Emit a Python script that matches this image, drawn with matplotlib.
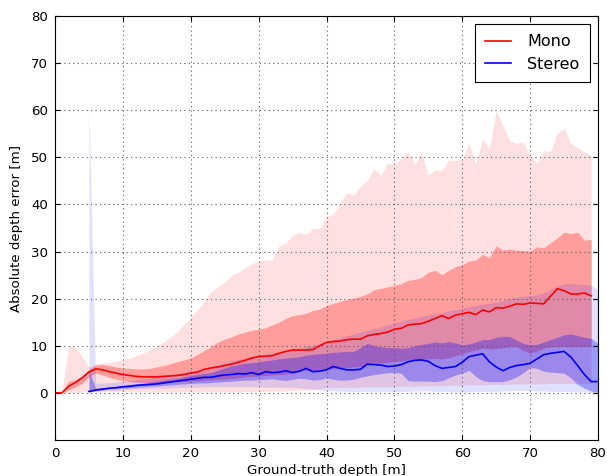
import matplotlib
matplotlib.use("Agg")
import matplotlib.pyplot as plt
import numpy as np

# ---------------- data ----------------
mono_x = list(range(0, 80))
mono_median = [0, 0, 1.4, 2.2, 3.2, 4.4, 5.1, 4.9, 4.5, 4.2,
               3.9, 3.7, 3.5, 3.4, 3.4, 3.4, 3.5, 3.6, 3.7, 3.9,
               4.2, 4.4, 5.0, 5.3, 5.5, 5.8, 6.1, 6.5, 6.9, 7.4,
               7.7, 7.8, 7.9, 8.4, 8.8, 9.1, 9.1, 9.1, 9.2, 10.0,
               10.7, 10.9, 11.0, 11.3, 11.4, 11.4, 12.1, 12.4, 12.6, 12.9,
               13.5, 13.7, 14.4, 14.6, 14.7, 15.2, 15.8, 16.4, 15.8, 16.5,
               16.8, 17.1, 16.6, 17.6, 17.2, 18.1, 18.0, 18.4, 18.9, 18.8,
               19.1, 19.0, 18.9, 20.5, 22.1, 21.7, 21.0, 21.0, 21.2, 20.6]
mono_q75 = [0, 0, 2.5, 2.8, 3.6, 5.0, 5.9, 6.0, 5.8, 5.5,
            5.3, 5.2, 5.1, 5.1, 5.2, 5.5, 5.8, 6.2, 6.6, 7.0,
            7.4, 8.2, 9.0, 9.8, 10.8, 11.4, 11.9, 12.5, 12.9, 13.3,
            13.5, 13.8, 14.4, 15.0, 15.8, 16.4, 16.6, 16.9, 17.5, 17.8,
            18.5, 19.0, 19.4, 19.8, 20.1, 20.5, 21.0, 21.9, 22.2, 22.5,
            22.8, 23.2, 23.9, 24.1, 24.5, 25.6, 26.0, 25.1, 26.0, 26.8,
            27.2, 28.0, 28.2, 29.4, 28.7, 31.2, 30.3, 30.5, 30.3, 30.2,
            30.1, 31.0, 30.8, 31.9, 32.9, 34.1, 33.8, 34.1, 32.4, 32.6]
mono_q25 = [0, 0, 0.6, 1.2, 2.0, 3.4, 4.2, 3.8, 3.3, 2.9,
            2.6, 2.4, 2.3, 2.2, 2.2, 2.2, 2.2, 2.3, 2.3, 2.4,
            2.5, 2.6, 2.7, 2.8, 2.9, 3.0, 3.1, 3.2, 3.4, 3.5,
            3.6, 3.7, 3.8, 3.9, 4.0, 4.2, 4.6, 4.8, 4.6, 4.7,
            4.9, 5.2, 5.3, 5.4, 5.5, 5.6, 5.9, 6.2, 6.3, 6.5,
            6.7, 6.8, 7.0, 7.1, 7.3, 7.2, 7.3, 7.2, 7.4, 7.9,
            8.3, 8.8, 9.1, 9.5, 9.3, 9.4, 9.6, 9.8, 9.8, 9.0,
            8.4, 8.9, 9.5, 9.8, 9.8, 9.9, 9.8, 9.8, 9.8, 9.8]
mono_p95 = [0, 0, 10.0, 9.8, 7.6, 5.5, 6.1, 6.3, 6.5, 6.7,
            7.0, 7.4, 7.9, 8.5, 9.2, 9.9, 10.8, 11.8, 13.0, 14.5,
            16.0, 17.7, 19.5, 21.5, 22.5, 23.5, 25.0, 25.6, 26.5, 27.4,
            28.0, 28.2, 28.3, 31.2, 31.8, 33.5, 34.0, 33.7, 34.9, 35.0,
            37.3, 38.0, 40.4, 42.5, 42.0, 44.0, 45.0, 47.7, 46.2, 48.8,
            48.4, 49.8, 51.2, 48.4, 51.1, 46.2, 47.4, 47.2, 49.5, 49.3,
            49.6, 53.0, 48.6, 54.0, 51.8, 59.9, 56.7, 53.5, 53.0, 53.3,
            50.3, 48.9, 51.4, 51.2, 55.2, 56.2, 53.0, 52.1, 51.2, 50.3]
mono_p5 = [0, 0, 0, 0.1, 0.2, 0.3, 0.3, 0.3, 0.3, 0.3,
           0.3, 0.3, 0.3, 0.3, 0.2, 0.2, 0.2, 0.2, 0.2, 0.2,
           0.2, 0.2, 0.2, 0.2, 0.2, 0.2, 0.2, 0.2, 0.3, 0.3,
           0.3, 0.3, 0.4, 0.4, 0.4, 0.5, 0.5, 0.6, 0.7, 0.9,
           1.1, 1.1, 1.2, 1.2, 1.2, 1.2, 1.3, 1.3, 1.3, 1.3,
           1.3, 1.4, 1.4, 1.4, 1.5, 1.5, 1.5, 1.5, 1.6, 1.6,
           1.6, 1.7, 1.7, 1.7, 1.8, 1.8, 1.8, 1.8, 1.9, 1.9,
           1.9, 1.9, 2.0, 2.0, 2.0, 2.0, 2.0, 2.0, 2.0, 2.0]

stereo_x = list(range(5, 81))
stereo_median = [0.3, 0.6, 0.8, 1.0, 1.1, 1.3, 1.4, 1.6, 1.7, 1.8,
                 1.9, 2.1, 2.3, 2.5, 2.7, 2.9, 3.1, 3.3, 3.3, 3.6,
                 3.8, 3.9, 4.1, 4.0, 4.3, 3.9, 4.5, 4.3, 4.4, 4.7,
                 4.3, 4.6, 5.2, 4.5, 4.6, 4.9, 5.6, 5.2, 4.9, 4.9,
                 5.0, 6.1, 6.0, 5.9, 5.6, 5.7, 6.0, 6.6, 6.9, 7.0,
                 6.7, 5.8, 5.2, 5.4, 5.6, 6.5, 7.7, 8.0, 8.3, 6.6,
                 5.5, 4.7, 5.4, 5.8, 6.0, 6.3, 7.2, 8.1, 8.4, 8.6,
                 8.8, 7.6, 5.8, 3.9, 2.4, 2.4]
stereo_q75 = [4.6, 1.0, 1.1, 1.2, 1.4, 1.6, 1.8, 1.9, 2.1, 2.3,
              2.5, 2.7, 2.9, 3.1, 3.4, 3.7, 3.9, 4.1, 4.3, 4.8,
              5.3, 5.7, 6.0, 6.3, 6.4, 6.6, 6.8, 7.0, 7.2, 7.4,
              7.5, 7.7, 8.0, 8.2, 8.3, 8.4, 8.6, 8.7, 8.8, 8.8,
              9.6, 10.5, 10.0, 9.8, 9.6, 9.6, 9.5, 9.6, 10.0, 10.3,
              10.5, 10.8, 10.6, 10.9, 10.6, 10.2, 10.4, 10.8, 11.3, 11.3,
              11.8, 12.0, 12.0, 11.2, 10.5, 10.2, 10.3, 10.8, 11.3, 11.8,
              12.3, 12.5, 12.2, 11.8, 11.6, 10.5]
stereo_q25 = [0.2, 0.5, 0.6, 0.8, 0.9, 1.0, 1.1, 1.2, 1.3, 1.4,
              1.5, 1.6, 1.7, 1.8, 1.9, 2.0, 2.1, 2.1, 2.2, 2.3,
              2.4, 2.5, 2.6, 2.7, 2.7, 2.8, 2.9, 3.0, 2.8, 2.6,
              2.9, 3.1, 3.0, 2.7, 2.8, 3.2, 2.9, 2.7, 2.7, 2.9,
              3.3, 3.6, 3.9, 4.1, 4.3, 4.3, 4.2, 2.6, 2.5, 2.5,
              2.5, 2.4, 2.6, 3.2, 3.8, 4.2, 4.8, 3.5, 2.6, 2.4,
              2.4, 2.4, 2.8, 3.4, 4.3, 5.4, 5.2, 4.6, 4.4, 4.3,
              4.2, 3.2, 1.8, 1.0, 0.4, 0.1]
stereo_p95 = [60.5, 2.0, 2.1, 2.2, 2.3, 2.4, 2.6, 2.8, 3.0, 3.2,
              3.4, 3.6, 3.8, 4.0, 4.3, 4.6, 4.9, 5.2, 5.6, 6.0,
              6.4, 6.8, 7.1, 7.4, 7.7, 8.0, 8.2, 8.4, 8.6, 8.9,
              9.2, 9.5, 9.8, 10.1, 10.5, 10.9, 11.3, 11.7, 12.1, 12.5,
              12.9, 13.3, 13.6, 14.0, 14.4, 14.8, 15.2, 15.6, 15.9, 16.2,
              16.5, 16.8, 17.0, 17.4, 17.7, 18.0, 18.3, 18.6, 18.8, 19.0,
              19.3, 19.6, 20.0, 20.3, 20.5, 20.6, 20.8, 21.2, 22.0, 22.7,
              23.1, 23.2, 23.1, 23.0, 22.8, 22.0]
stereo_p5 = [0.0, 0.4, 0.5, 0.6, 0.6, 0.7, 0.8, 0.8, 0.9, 0.9,
             1.0, 1.0, 1.1, 1.1, 1.2, 1.2, 1.2, 1.3, 1.3, 1.3,
             1.3, 1.3, 1.3, 1.3, 1.3, 1.3, 1.2, 1.2, 1.2, 1.1,
             1.1, 1.0, 0.9, 0.8, 0.6, 0.5, 0.4, 0.4, 0.3, 0.3,
             0.3, 0.3, 0.3, 0.3, 0.3, 0.3, 0.3, 0.3, 0.4, 0.4,
             0.4, 0.3, 0.3, 0.3, 0.2, 0.2, 0.2, 0.3, 0.3, 0.3,
             0.3, 0.4, 0.4, 0.5, 0.5, 0.5, 0.4, 0.4, 0.3, 0.3,
             0.3, 0.3, 0.2, 0.2, 0.1, 0.0]

series_labels = ["Mono", "Stereo"]
x_ticks = [0, 10, 20, 30, 40, 50, 60, 70, 80]
y_ticks = [0, 10, 20, 30, 40, 50, 60, 70, 80]

# ---------------- figure ----------------
plt.rcParams['font.family'] = ['DejaVu Sans']
fig = plt.figure(figsize=(6.07, 4.76), dpi=100)
ax = fig.add_axes([55 / 607, 1 - 440 / 476, 543 / 607, 424 / 476])

ax.fill_between(mono_x, mono_p5, mono_p95, color='red', alpha=0.12, linewidth=0)
ax.fill_between(mono_x, mono_q25, mono_q75, color='red', alpha=0.3, linewidth=0)
ax.fill_between(stereo_x, stereo_p5, stereo_p95, color='blue', alpha=0.12, linewidth=0)
ax.fill_between(stereo_x, stereo_q25, stereo_q75, color='blue', alpha=0.3, linewidth=0)
ax.plot(mono_x, mono_median, color='red', linewidth=1.2, label=series_labels[0])
ax.plot(stereo_x, stereo_median, color='blue', linewidth=1.2, label=series_labels[1])

ax.set_xlim(0, 80)
ax.set_ylim(-10, 80)
ax.set_xticks(x_ticks)
ax.set_yticks(y_ticks)
ax.tick_params(direction='in', top=True, right=True, length=3.5, width=0.8,
               labelsize=9.6, pad=5)
ax.grid(True, color='0.35', linestyle=(0, (1, 3)), linewidth=0.8)
for s in ax.spines.values():
    s.set_linewidth(0.8)

ax.set_xlabel("Ground-truth depth [m]", fontsize=9.6, labelpad=3)
ax.set_ylabel("Absolute depth error [m]", fontsize=9.6, labelpad=6)

leg = ax.legend(loc='upper right', fontsize=11.5, fancybox=False, framealpha=1,
                edgecolor='black', handlelength=1.6, borderpad=0.65,
                handletextpad=1.05, labelspacing=0.45, borderaxespad=0.5)
leg.get_frame().set_linewidth(0.8)

fig.savefig("out.png", dpi=100)
